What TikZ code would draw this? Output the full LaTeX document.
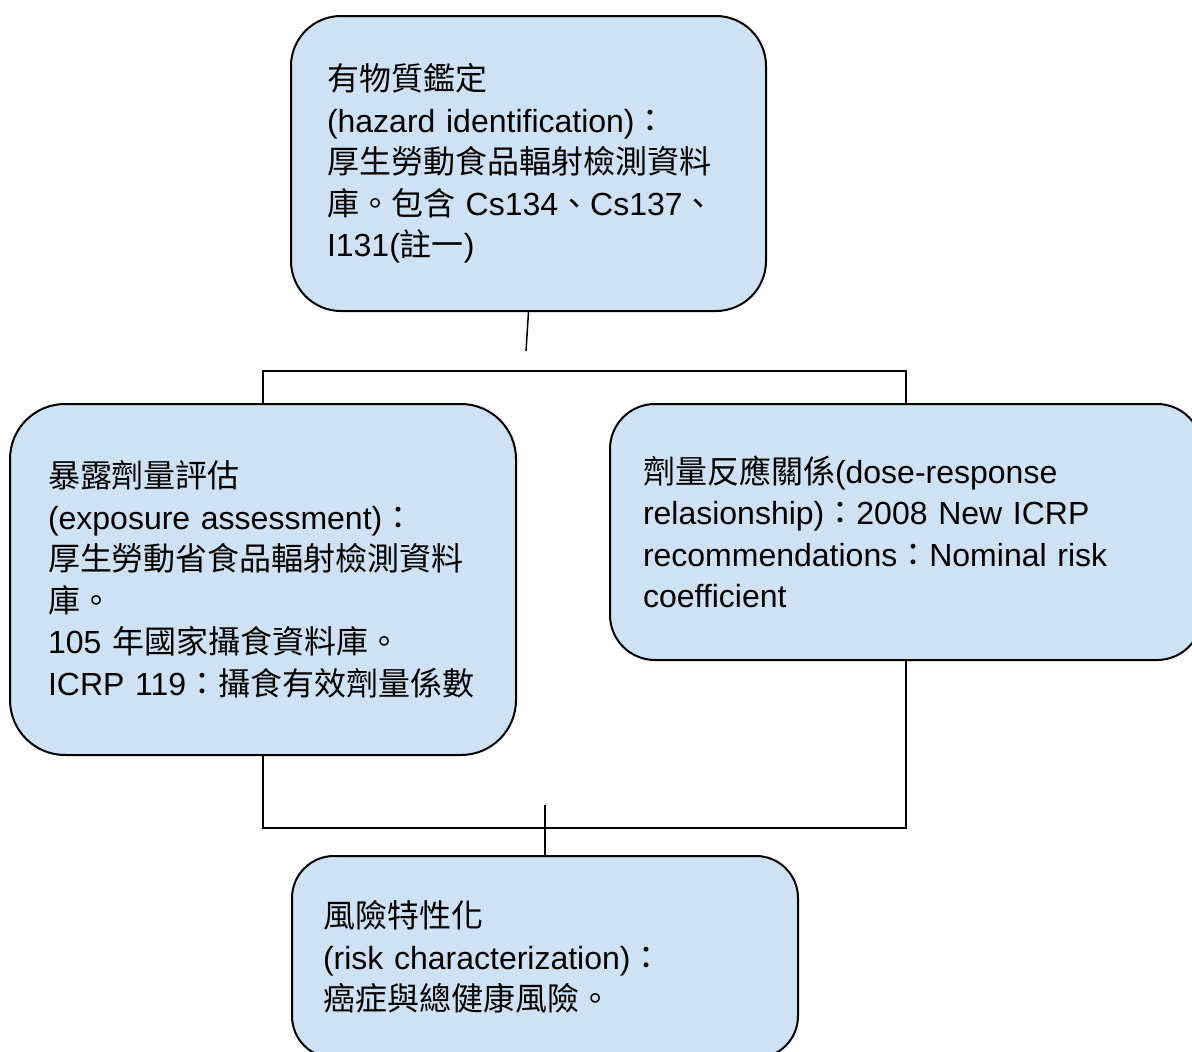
\documentclass[tikz,border=0pt]{standalone}
\usepackage{fontspec}
\setmainfont{Liberation Sans}
\newfontfamily\cjkfont{Noto Sans CJK TC}
\newcommand{\C}[1]{{\cjkfont #1}}
\pgfdeclarelayer{paper}
\pgfdeclarelayer{background}
\pgfsetlayers{paper,background,main}
\definecolor{boxfill}{HTML}{CFE2F3}
\tikzset{
  box/.style={draw=black, line width=2pt, fill=boxfill, align=left,
    font=\fontsize{32}{41.5}\selectfont, inner ysep=0pt},
  conn/.style={draw=black, line width=1.5pt}
}
\begin{document}
\begin{tikzpicture}[x=1pt,y=-1pt]
\clip (0,0) rectangle (1192,1052);
\begin{pgfonlayer}{paper}
\fill[white] (0,0) rectangle (1192,1052);
\end{pgfonlayer}
\node[box, rounded corners=50pt, minimum width=475pt, minimum height=295pt,
  inner xsep=36pt, text width=403pt] (haz) at (528.5,163.5)
  {\C{有物質鑑定}\\
   (hazard identification)\C{：}\\
   \C{厚生勞動食品輻射檢測資料}\\
   \C{庫。包含} Cs134\C{、}Cs137\C{、}\\
   I131(\C{註一})};
\node[box, rounded corners=55pt, minimum width=506pt, minimum height=351pt,
  inner xsep=38pt, text width=430pt] (exp) at (263,579.5)
  {\C{暴露劑量評估}\\
   (exposure assessment)\C{：}\\
   \C{厚生勞動省食品輻射檢測資料}\\
   \C{庫。}\\
   \mbox{105 \C{年國家攝食資料庫。}}\\
   \mbox{ICRP 119\C{：攝食有效劑量係數}}};
\node[box, rounded corners=45pt, minimum width=592pt, minimum height=256pt,
  inner xsep=33pt, text width=526pt] (dose) at (906,532)
  {\C{劑量反應關係}(dose-response\\
   relasionship)\C{：}2008 New ICRP\\
   recommendations\C{：}Nominal risk\\
   coefficient};
\node[box, rounded corners=42pt, minimum width=506pt, minimum height=202pt,
  inner xsep=31pt, text width=444pt] (risk) at (545,957)
  {\C{風險特性化}\\
   (risk characterization)\C{：}\\
   \C{癌症與總健康風險。}};
\coordinate (hazend) at (526,351);
\coordinate (topbar) at (0,371);
\coordinate (botbar) at (0,828);
\coordinate (riskstart) at (545,805);
\begin{pgfonlayer}{background}
\draw[conn] (haz.south) -- (hazend);
\draw[conn] (exp.north) |- (topbar -| dose.north) -- (dose.north);
\draw[conn] (exp.south) |- (botbar -| dose.south) -- (dose.south);
\draw[conn] (riskstart) -- (risk.north);
\end{pgfonlayer}
\end{tikzpicture}
\end{document}
